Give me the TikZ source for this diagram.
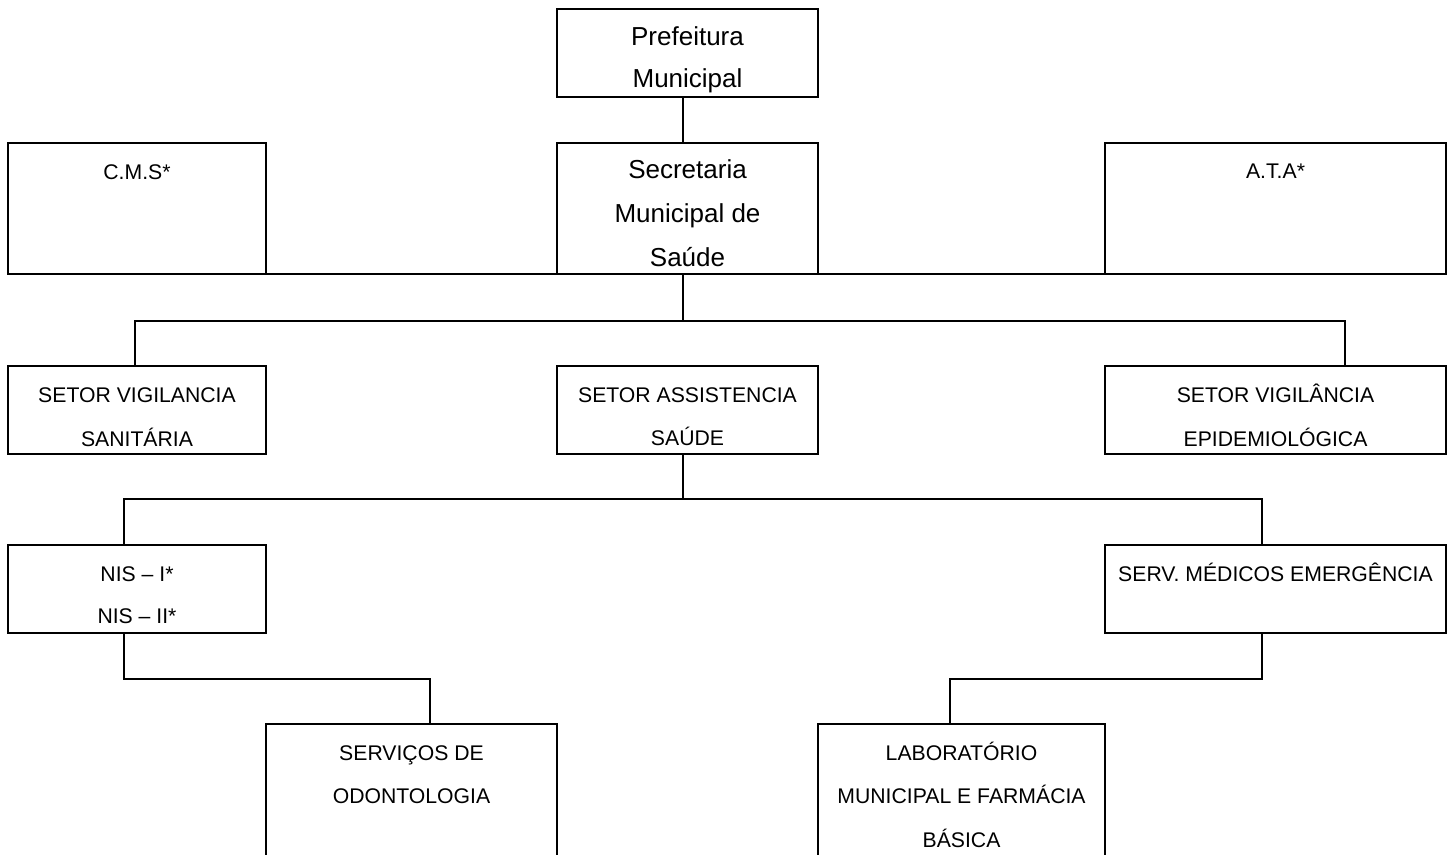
\documentclass[tikz,border=0pt]{standalone}
\usepackage{fontspec}
\setmainfont{Liberation Sans}
\tikzset{
  box/.style={draw, rectangle, line width=2.7pt, inner sep=0pt, outer sep=0pt},
  conn/.style={line width=2.7pt},
  big/.style={font=\fontsize{26}{30}\selectfont, inner sep=0pt, anchor=base},
  small/.style={font=\fontsize{21.2}{25}\selectfont, inner sep=0pt, anchor=base},
}
\begin{document}
\begin{tikzpicture}[x=1pt, y=-1pt]
\useasboundingbox (0,0) rectangle (1453,854);
\clip (0,0) rectangle (1453,854);

% boxes
\node[box, minimum width=261pt, minimum height=88pt]  (pref) at (687.5,53) {};
\node[box, minimum width=261pt, minimum height=131pt] (sec)  at (687.5,208.5) {};
\node[box, minimum width=258pt, minimum height=131pt] (cms)  at (137,208.5) {};
\node[box, minimum width=341pt, minimum height=131pt] (ata)  at (1275.5,208.5) {};
\node[box, minimum width=258pt, minimum height=88pt]  (svs)  at (137,410) {};
\node[box, minimum width=261pt, minimum height=88pt]  (sas)  at (687.5,410) {};
\node[box, minimum width=341pt, minimum height=88pt]  (sve)  at (1275.5,410) {};
\node[box, minimum width=258pt, minimum height=88pt]  (nis)  at (137,589) {};
\node[box, minimum width=341pt, minimum height=88pt]  (sme)  at (1275.5,589) {};
\node[box, minimum width=291pt, minimum height=176pt] (odo)  at (411.5,812) {};
\node[box, minimum width=287pt, minimum height=176pt] (lab)  at (961.5,812) {};

% texts
\node[big] (pref1) at (687.5,45) {Prefeitura};
\node[big] (pref2) at (687.5,87) {Municipal};
\node[big] (sec1) at (687.5,178) {Secretaria};
\node[big] (sec2) at (687.5,222) {Municipal de};
\node[big] (sec3) at (687.5,266) {Saúde};
\node[small] (cms1) at (137,179) {C.M.S*};
\node[small] (ata1) at (1275.5,178) {A.T.A*};
\node[small] (svs1) at (137,402) {SETOR VIGILANCIA};
\node[small] (svs2) at (137,446) {SANITÁRIA};
\node[small] (sas1) at (687.5,402) {SETOR ASSISTENCIA};
\node[small] (sas2) at (687.5,445) {SAÚDE};
\node[small] (sve1) at (1275.5,402) {SETOR VIGILÂNCIA};
\node[small] (sve2) at (1275.5,446) {EPIDEMIOLÓGICA};
\node[small] (nis1) at (137,581) {NIS – I*};
\node[small] (nis2) at (137,623) {NIS – II*};
\node[small] (sme1) at (1275.5,581) {SERV. MÉDICOS EMERGÊNCIA};
\node[small] (odo1) at (411.5,760) {SERVIÇOS DE};
\node[small] (odo2) at (411.5,803) {ODONTOLOGIA};
\node[small] (lab1) at (961.5,760) {LABORATÓRIO};
\node[small] (lab2) at (961.5,803) {MUNICIPAL E FARMÁCIA};
\node[small] (lab3) at (961.5,847) {BÁSICA};

% connector guide coordinates
\coordinate (xa) at (683,0);
\coordinate (x1) at (135,0);
\coordinate (x3) at (1345,0);
\coordinate (x4) at (124,0);
\coordinate (x5) at (1262,0);
\coordinate (x6) at (430,0);
\coordinate (x7) at (950,0);
\coordinate (ya) at (0,321);
\coordinate (yb) at (0,499);
\coordinate (yc) at (0,679);

% connectors
\draw[conn] (pref.south -| xa) -- (sec.north -| xa);
\draw[conn] (cms.south east) -- (sec.south west);
\draw[conn] (sec.south east) -- (ata.south west);
\draw[conn] (sec.south -| xa) -- (xa |- ya);
\draw[conn] (svs.north -| x1) -- (x1 |- ya) -- (x3 |- ya) -- (sve.north -| x3);
\draw[conn] (sas.south -| xa) -- (xa |- yb);
\draw[conn] (nis.north -| x4) -- (x4 |- yb) -- (x5 |- yb) -- (sme.north -| x5);
\draw[conn] (nis.south -| x4) -- (x4 |- yc) -- (x6 |- yc) -- (odo.north -| x6);
\draw[conn] (sme.south -| x5) -- (x5 |- yc) -- (x7 |- yc) -- (lab.north -| x7);
\end{tikzpicture}
\end{document}
